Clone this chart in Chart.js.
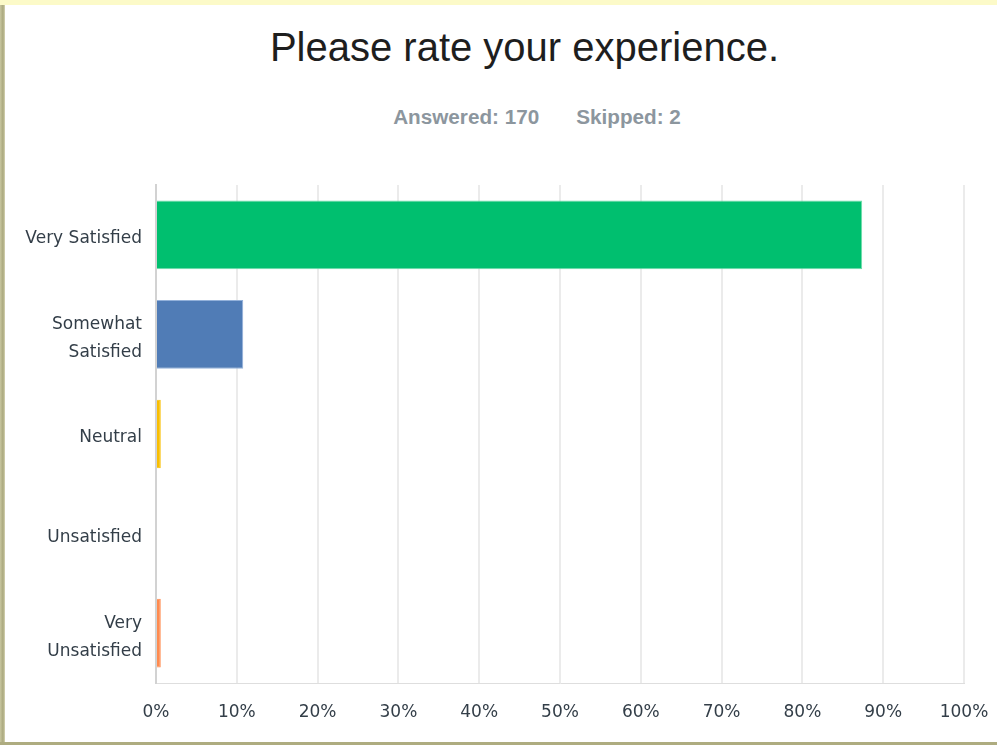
<!DOCTYPE html>
<html>
<head>
<meta charset="utf-8">
<script src="https://cdn.jsdelivr.net/npm/chart.js@4.4.0/dist/chart.umd.min.js"></script>
<style>
  html, body { margin: 0; padding: 0; background: #fff; }
  body { width: 997px; height: 745px; position: relative; overflow: hidden; }
  #topband { position: absolute; left: 0; top: 0; width: 997px; height: 5px; background: #fcfac8; }
  #leftband { position: absolute; left: 0; top: 5px; width: 5px; height: 740px;
              background: linear-gradient(to right, #c9c7a0, #aaa87d 60%, #d6d4b3); }
  #bottomband { position: absolute; left: 0; top: 742px; width: 997px; height: 3px; background: #aeac80; }
  #title { position: absolute; left: 0; width: 1049px; top: 25px; text-align: center;
           font: 40px "Liberation Sans", Arial, sans-serif; color: #1e1e1e; }
  #stats { position: absolute; left: 0; width: 1074px; top: 105px; text-align: center;
           font: bold 20.7px "Liberation Sans", Arial, sans-serif; color: #8c969e; }
  #stats span + span { margin-left: 37px; }
  #wrap { position: absolute; left: 5px; top: 5px; width: 992px; height: 737px; }
</style>
</head>
<body>
<div id="topband"></div>
<div id="leftband"></div>
<div id="bottomband"></div>
<div id="title">Please rate your experience.</div>
<div id="stats"><span>Answered: 170</span><span>Skipped: 2</span></div>
<div id="wrap"><canvas id="myChart"></canvas></div>
<script>
const categories = ['Very Satisfied', ['Somewhat', 'Satisfied'], 'Neutral', 'Unsatisfied', ['Very', 'Unsatisfied']];
const percents = [87.4, 10.8, 0.59, 0, 0.59];
const barColors = ['#00bf6f', '#507cb6', '#f9be00', '#6bc8cd', '#ff8b4f'];
const barBorders = ['#6fdcaa', '#93b1da', '#f9be00', '#6bc8cd', '#ff8b4f'];
const xTicks = [0, 10, 20, 30, 40, 50, 60, 70, 80, 90, 100];

const labelFont = { family: '"DejaVu Sans", sans-serif', size: 17 };
const labelColor = '#333e48';

const ctx = document.getElementById('myChart').getContext('2d');

new Chart(ctx, {
    type: 'bar',
    data: {
        labels: categories,
        datasets: [{
            data: percents,
            backgroundColor: barColors,
            borderColor: barBorders,
            borderWidth: 1,
            categoryPercentage: 1,
            barPercentage: 0.69
        }]
    },
    options: {
        indexAxis: 'y',
        animation: false,
        responsive: true,
        maintainAspectRatio: false,
        layout: {
            padding: { top: 180, right: 33, bottom: 0, left: 0 }
        },
        scales: {
            x: {
                min: 0,
                max: 100,
                afterBuildTicks: scale => {
                    scale.ticks = xTicks.map(v => ({ value: v }));
                },
                afterFit: scale => {
                    scale.height = 59;
                    scale.paddingLeft = 0;
                    scale.paddingRight = 0;
                },
                grid: {
                    color: '#ebebeb',
                    lineWidth: 2,
                    drawTicks: false
                },
                border: { display: true, color: '#dedede', width: 1 },
                ticks: {
                    padding: 19,
                    color: labelColor,
                    font: labelFont,
                    callback: v => v + '%'
                }
            },
            y: {
                afterFit: scale => { scale.width = 151; },
                grid: { display: false, drawTicks: false },
                border: { display: true, color: '#d2d2d2', width: 2 },
                ticks: {
                    padding: 14,
                    labelOffset: 4,
                    color: labelColor,
                    font: Object.assign({ lineHeight: 1.65 }, labelFont)
                }
            }
        },
        plugins: {
            legend: { display: false },
            tooltip: { enabled: false }
        }
    }
});
</script>
</body>
</html>
